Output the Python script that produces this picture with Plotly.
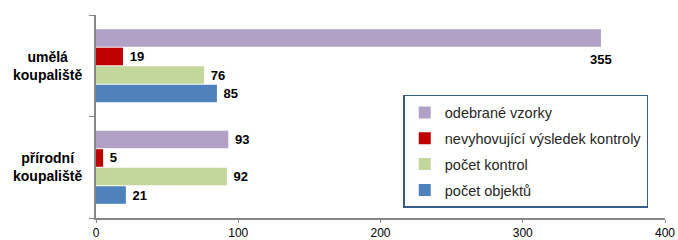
import plotly.graph_objects as go

categories = ["přírodní<br>koupaliště", "umělá<br>koupaliště"]
series_names = ["počet objektů", "počet kontrol", "nevyhovující výsledek kontroly", "odebrané vzorky"]
pocet_objektu = [21, 85]
pocet_kontrol = [92, 76]
nevyhovujici = [5, 19]
odebrane_vzorky = [93, 355]
colors = ["#4f81bd", "#c3d69b", "#c00000", "#b2a1c7"]
x_ticks = [0, 100, 200, 300, 400]

FONT = "Liberation Sans, Arial"
fig = go.Figure()
values = [pocet_objektu, pocet_kontrol, nevyhovujici, odebrane_vzorky]
for i, (name, vals, col) in enumerate(zip(series_names, values, colors)):
    is_big = [v > 300 for v in vals]
    fig.add_trace(go.Bar(
        y=categories, x=vals, name=name, orientation="h",
        marker=dict(color=col, line=dict(width=0)),
        text=["" if b else "\u00a0" + str(v) for v, b in zip(vals, is_big)],
        textposition="outside", cliponaxis=False,
        textfont=dict(family=FONT, size=13, color="#000000", weight="bold"),
        legendgroup=name, legendrank=len(series_names) - i,
    ))
    for v, c, b in zip(vals, categories, is_big):
        if b:
            fig.add_annotation(x=v, y=c, text="<b>%d</b>" % v, showarrow=False,
                               xanchor="center", yanchor="middle", yshift=6,
                               font=dict(family=FONT, size=13, color="#000000"))

for c in categories:
    fig.add_annotation(x=-0.086, xref="paper", y=c, yref="y", text="<b>%s</b>" % c,
                       showarrow=False, xanchor="center", yanchor="middle", align="center",
                       font=dict(family=FONT, size=14, color="#000000"))

fig.update_layout(
    width=678, height=240,
    margin=dict(l=96, r=13, t=15, b=22),
    paper_bgcolor="white", plot_bgcolor="white",
    barmode="group", bargap=0.27, bargroupgap=0.05,
    showlegend=True,
    legend=dict(
        x=0.54, y=0.606, xanchor="left", yanchor="top",
        traceorder="grouped", tracegroupgap=4,
        bordercolor="#385d8a", borderwidth=1.5, bgcolor="white",
        font=dict(family=FONT, size=14.5, color="#262626"),
        itemwidth=30,
    ),
    xaxis=dict(
        range=[0, 400], tickvals=x_ticks, showgrid=False, zeroline=False,
        showline=True, linecolor="#868686", linewidth=1.5,
        ticks="outside", ticklen=3, tickcolor="#868686", automargin=False,
        tickfont=dict(family=FONT, size=12, color="#000000"),
    ),
    yaxis=dict(
        showgrid=False, zeroline=False, showline=True, linecolor="#868686", linewidth=1.5,
        ticks="outside", ticklen=5, tickcolor="#868686", tickson="boundaries",
        automargin=False, showticklabels=False,
    ),
)
fig.write_html("out.html", config={"displayModeBar": False},
               post_script="document.body.style.margin='0';document.body.style.overflow='hidden';")
